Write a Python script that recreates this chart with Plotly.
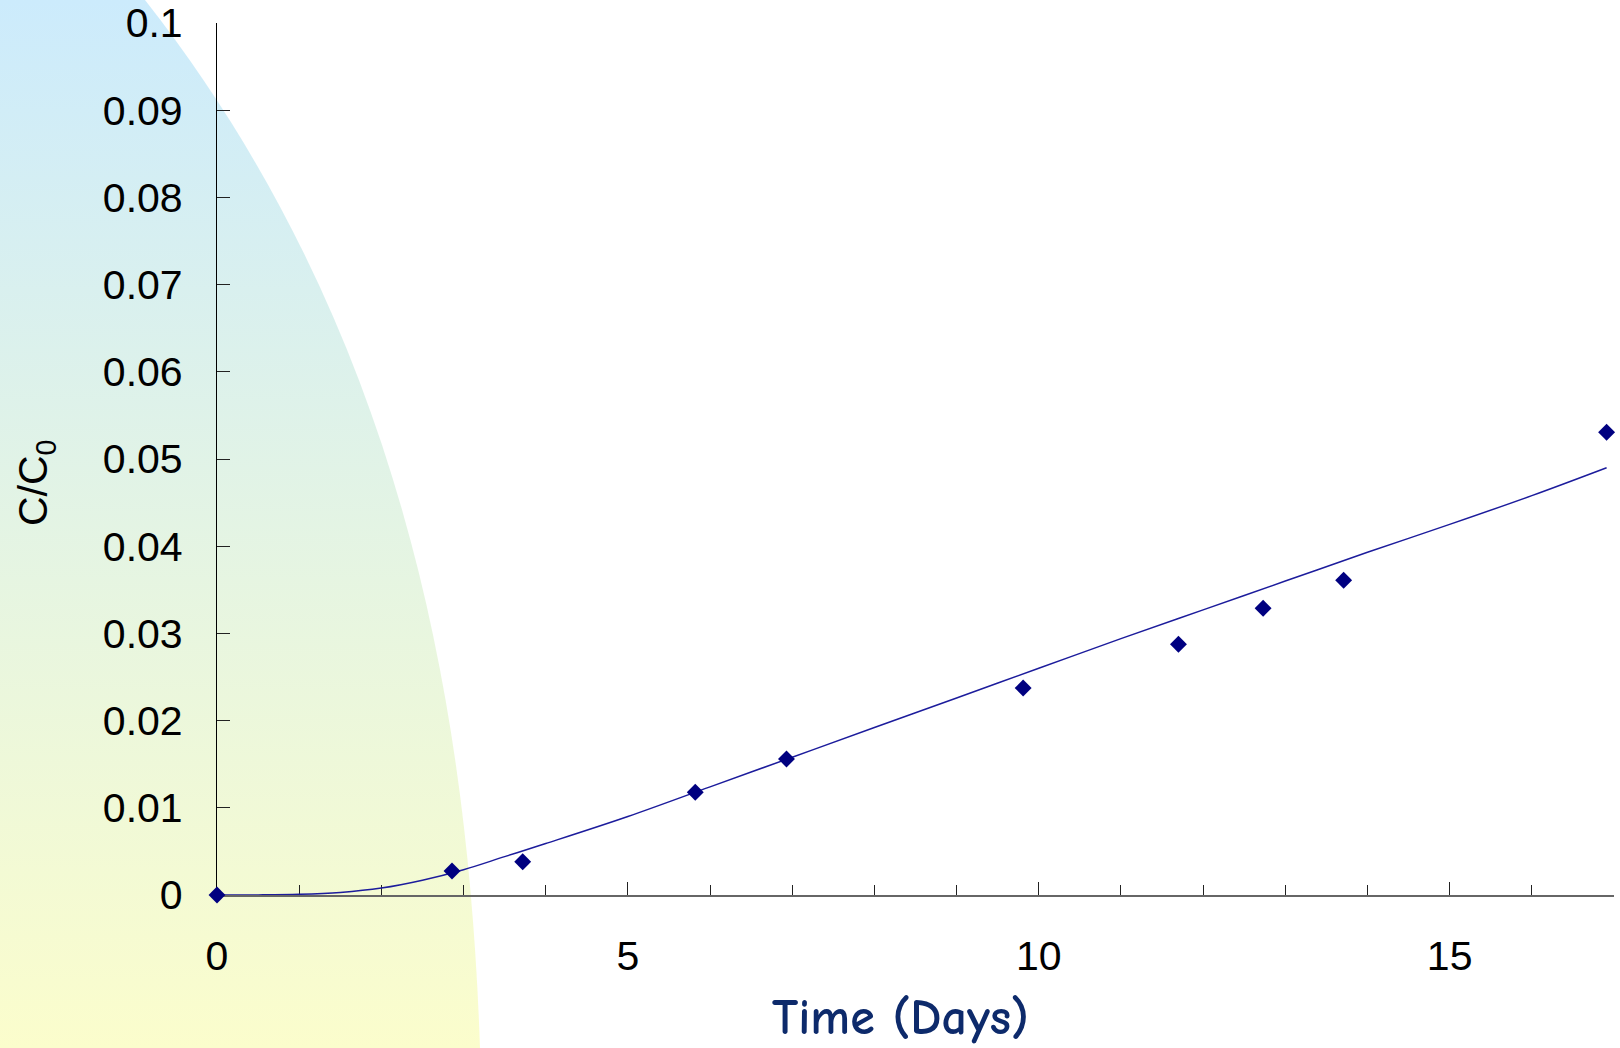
import base64
import plotly.graph_objects as go

# ---- data ----
time_days = [0, 2.86, 3.72, 5.82, 6.93, 9.81, 11.70, 12.73, 13.71, 16.91]
c_ratio = [0, 0.00275, 0.00382, 0.01178, 0.0156, 0.02374, 0.02875, 0.03288, 0.03609, 0.05306]

fit_time = [0, 0.5, 1, 1.5, 2, 2.5, 3, 3.5, 4, 5, 6, 7, 8, 9, 10, 11, 12, 13, 14, 15, 16, 16.91]
fit_ratio = [0, 0.00001, 0.00008, 0.0003, 0.0008, 0.0017, 0.0029, 0.0044, 0.0059, 0.0090,
             0.0124, 0.0158, 0.0192, 0.0226, 0.0260, 0.0294, 0.0327, 0.0360, 0.0393,
             0.0425, 0.0458, 0.0490]

y_ticks = [0, 0.01, 0.02, 0.03, 0.04, 0.05, 0.06, 0.07, 0.08, 0.09, 0.1]
y_tick_text = ["0", "0.01", "0.02", "0.03", "0.04", "0.05", "0.06", "0.07", "0.08", "0.09", "0.1"]
x_ticks = [0, 5, 10, 15]
x_tick_text = ["0", "5", "10", "15"]

W, H = 1620, 1048

# ---- decorative gradient background (slide style) ----
svg = f'''<svg xmlns="http://www.w3.org/2000/svg" width="{W}" height="{H}" viewBox="0 0 {W} {H}" preserveAspectRatio="none">
<defs><linearGradient id="g" x1="0" y1="0" x2="0" y2="1">
<stop offset="0" stop-color="rgb(204,235,252)"/>
<stop offset="1" stop-color="rgb(251,253,204)"/>
</linearGradient></defs>
<path d="M0,0 L145,0 C400,325 468,700 480,{H} L0,{H} Z" fill="url(#g)"/>
</svg>'''
svg_uri = "data:image/svg+xml;base64," + base64.b64encode(svg.encode()).decode()

fig = go.Figure()

fig.add_trace(go.Scatter(
    x=fit_time, y=fit_ratio, mode="lines",
    line=dict(color="#1c1c9c", width=1.5, shape="spline"),
    cliponaxis=False, showlegend=False, hoverinfo="skip",
))
fig.add_trace(go.Scatter(
    x=time_days, y=c_ratio, mode="markers",
    marker=dict(symbol="diamond", size=13, color="#000080"),
    cliponaxis=False, showlegend=False,
))

x0_px, x1_px = 217, 1614
y0_px, y1_px = 895, 23
tick_font = dict(family="Liberation Sans, Arial, sans-serif", size=41, color="black")

fig.update_layout(
    template="none",
    width=W, height=H,
    margin=dict(l=0, r=0, t=0, b=0, pad=0, autoexpand=False),
    paper_bgcolor="white",
    plot_bgcolor="rgba(0,0,0,0)",
    font=tick_font,
    images=[dict(source=svg_uri, xref="paper", yref="paper", x=0, y=1,
                 sizex=1, sizey=1, sizing="stretch", xanchor="left", yanchor="top",
                 layer="below")],
    xaxis=dict(
        domain=[x0_px / W, x1_px / W],
        range=[0, 17],
        automargin=False,
        tickvals=x_ticks, ticktext=x_tick_text, tickfont=tick_font,
        ticks="inside", ticklen=13, tickwidth=1.3, tickcolor="#222",
        minor=dict(dtick=1, ticks="inside", ticklen=10, tickwidth=1.2, tickcolor="#222"),
        showline=True, linecolor="#666", linewidth=1.6,
        showgrid=False, zeroline=False,
        ticklabelstandoff=24,
        layer="below traces",
    ),
    yaxis=dict(
        domain=[1 - y0_px / H, 1 - y1_px / H],
        range=[0, 0.1],
        automargin=False,
        tickvals=y_ticks, ticktext=y_tick_text, tickfont=tick_font,
        ticks="inside", ticklen=13, tickwidth=1.3, tickcolor="#222",
        showline=True, linecolor="black", linewidth=1.3,
        showgrid=False, zeroline=False,
        ticklabelstandoff=25,
        layer="below traces",
    ),
    annotations=[
        dict(text="C/C<sub>0</sub>", xref="paper", yref="paper",
             x=36 / W, y=1 - 483 / H, xanchor="center", yanchor="middle",
             textangle=-90, showarrow=False, font=tick_font),
        dict(text="Time (Days)", xref="paper", yref="paper",
             x=900 / W, y=1 - 1018 / H, xanchor="center", yanchor="middle",
             showarrow=False,
             font=dict(family="Comic Sans MS, Comic Neue, Lato, sans-serif", size=50,
                       color="#0d2a6b", weight=700)),
    ],
)

fig.write_html("out.html", config={"displayModeBar": False},
               post_script="document.body.style.margin='0';document.body.style.overflow='hidden';")
